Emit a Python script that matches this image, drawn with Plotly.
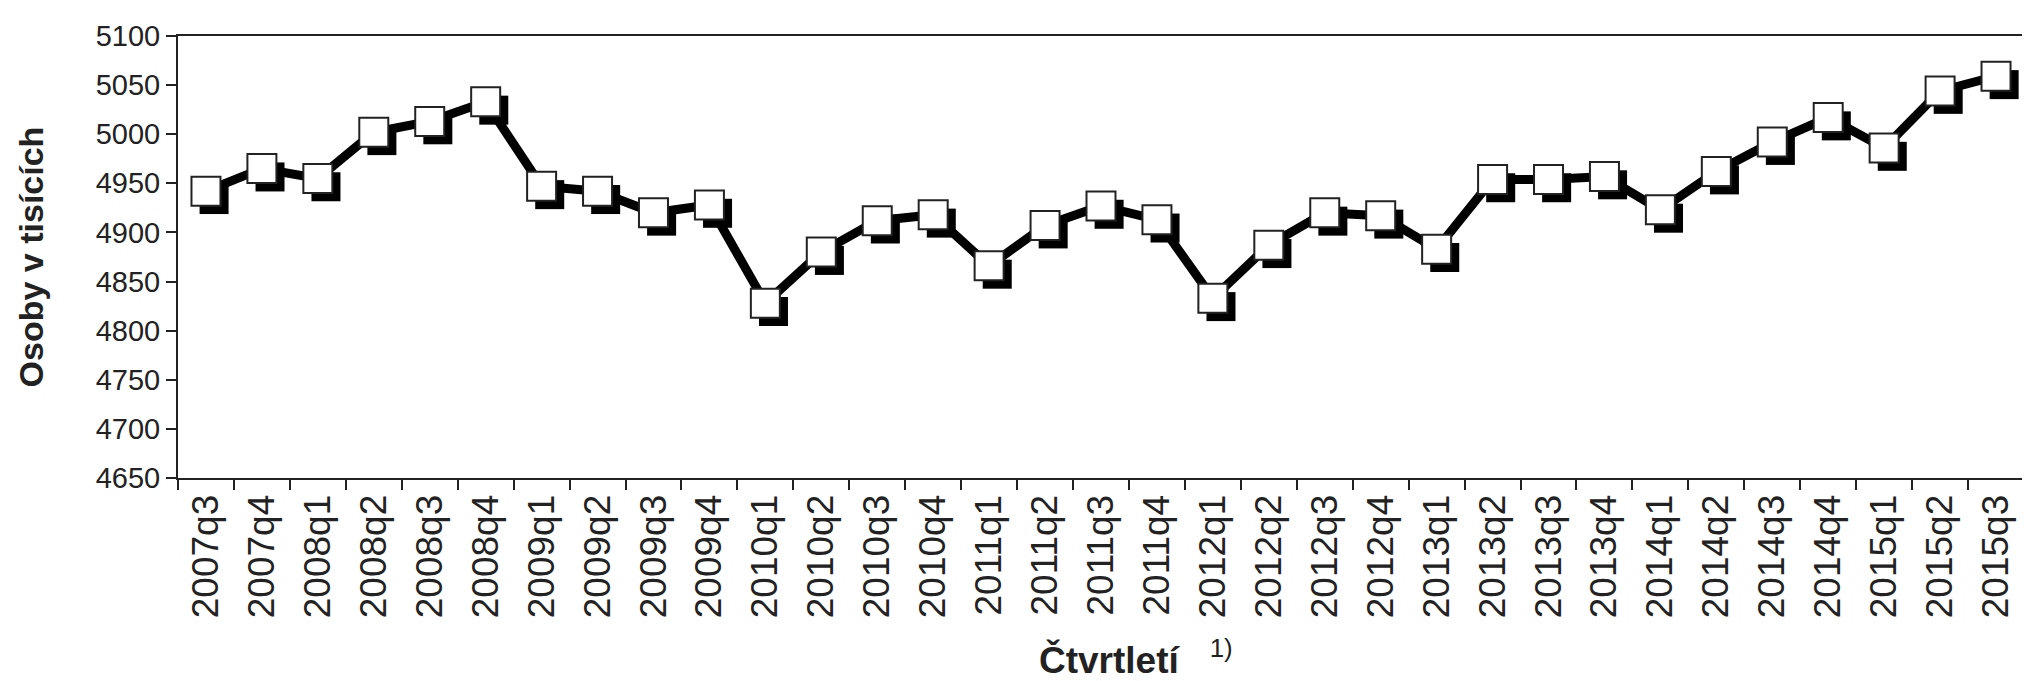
import plotly.graph_objects as go

# čtvrtletí 2007q3 .. 2015q3
quarters = [
    "2007q3", "2007q4",
    "2008q1", "2008q2", "2008q3", "2008q4",
    "2009q1", "2009q2", "2009q3", "2009q4",
    "2010q1", "2010q2", "2010q3", "2010q4",
    "2011q1", "2011q2", "2011q3", "2011q4",
    "2012q1", "2012q2", "2012q3", "2012q4",
    "2013q1", "2013q2", "2013q3", "2013q4",
    "2014q1", "2014q2", "2014q3", "2014q4",
    "2015q1", "2015q2", "2015q3",
]

# zaměstnaní, osoby v tisících
osoby = [
    4942, 4965,
    4955, 5002, 5013, 5033,
    4947, 4942, 4920, 4928,
    4828, 4880, 4912, 4918,
    4866, 4907, 4927, 4913,
    4833, 4887, 4920, 4917,
    4883, 4954, 4954, 4957,
    4923, 4962, 4992, 5017,
    4986, 5044, 5059,
]

y_ticks = [4650, 4700, 4750, 4800, 4850, 4900, 4950, 5000, 5050, 5100]

Y_MIN, Y_MAX = 4650, 5100
# posun stínu markerů: ~8 px doprava, ~8 px dolů (přes posunutý rozsah os)
SHADOW_DX = 0.145
SHADOW_DY = 8.5

FONT = "Liberation Sans, Arial, sans-serif"
INK = "#222222"

fig = go.Figure()

# stín pod markery (skryté osy x/y s posunutým rozsahem)
fig.add_trace(go.Scatter(
    x=quarters,
    y=osoby,
    mode="markers",
    marker=dict(symbol="square", size=29, color="black"),
    xaxis="x",
    yaxis="y",
    hoverinfo="skip",
    showlegend=False,
))

# hlavní řada: tlustá černá čára + bílé čtverce
fig.add_trace(go.Scatter(
    x=quarters,
    y=osoby,
    mode="lines+markers",
    line=dict(color="black", width=9),
    marker=dict(symbol="square", size=29, color="white",
                line=dict(color=INK, width=2)),
    xaxis="x2",
    yaxis="y2",
    hovertemplate="%{x}: %{y}<extra></extra>",
    showlegend=False,
))

hidden = dict(showline=False, showgrid=False, zeroline=False,
              showticklabels=False, ticks="")

fig.update_layout(
    width=2030,
    height=681,
    paper_bgcolor="white",
    plot_bgcolor="white",
    margin=dict(l=170, r=14, t=23, b=211),
    font=dict(family=FONT, color=INK),
    xaxis=dict(
        type="category",
        categoryorder="array",
        categoryarray=quarters,
        range=[-0.5 - SHADOW_DX, len(quarters) - 0.5 - SHADOW_DX],
        **hidden,
    ),
    yaxis=dict(range=[Y_MIN + SHADOW_DY, Y_MAX + SHADOW_DY], **hidden),
    xaxis2=dict(
        type="category",
        categoryorder="array",
        categoryarray=quarters,
        overlaying="x",
        side="bottom",
        range=[-0.5, len(quarters) - 0.5],
        tickangle=-90,
        tickfont=dict(size=37, color=INK),
        ticks="outside",
        tickson="boundaries",
        ticklen=10,
        tickwidth=2,
        tickcolor=INK,
        showline=True,
        linecolor=INK,
        linewidth=2,
        mirror=True,
        showgrid=False,
    ),
    yaxis2=dict(
        overlaying="y",
        side="left",
        range=[Y_MIN, Y_MAX],
        tickvals=y_ticks,
        tickfont=dict(size=29, color=INK),
        ticks="outside",
        ticklen=10,
        tickwidth=2,
        tickcolor=INK,
        showline=True,
        linecolor=INK,
        linewidth=2,
        mirror=True,
        showgrid=False,
        zeroline=False,
        title=dict(
            text="<b>Osoby v tisících</b>",
            font=dict(size=34, color=INK),
            standoff=42,
        ),
    ),
    annotations=[
        dict(
            text="<b>Čtvrtletí</b>   <sup>1)</sup>",
            xref="paper",
            yref="paper",
            x=0.519,
            y=-0.405,
            xanchor="center",
            yanchor="middle",
            showarrow=False,
            font=dict(size=37, color=INK),
        ),
    ],
)

fig.write_html("out.html")
